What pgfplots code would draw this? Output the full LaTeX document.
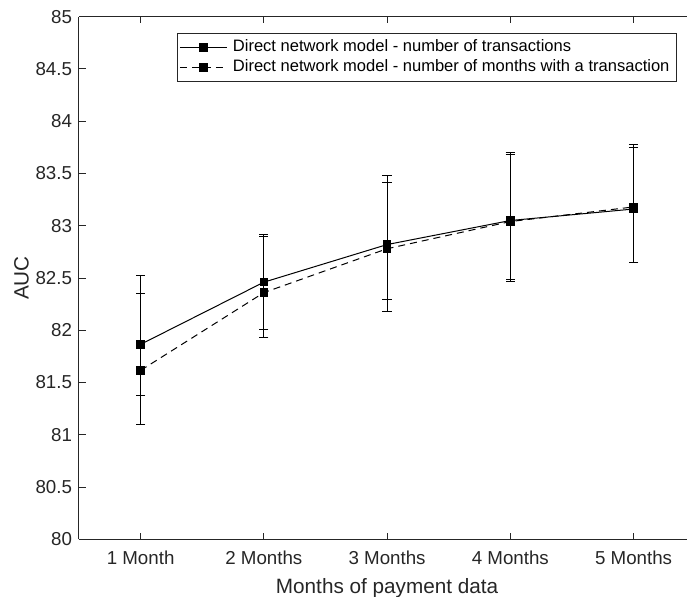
\documentclass[border=0pt]{standalone}
\usepackage{fontspec}
\setmainfont{Liberation Sans}
\usepackage{pgfplots}
\pgfplotsset{compat=1.18}
\usetikzlibrary{calc}
\definecolor{axgray}{RGB}{38,38,38}
\begin{document}
\begin{tikzpicture}
\begin{axis}[
  scale only axis,
  width=308.1bp, height=261.3bp,
  xmin=0.5, xmax=5.5, ymin=80, ymax=85,
  axis x line*=box, axis y line*=left,
  xtick={1,2,3,4,5},
  xticklabels={1 Month,2 Months,3 Months,4 Months,5 Months},
  ytick={80,80.5,81,81.5,82,82.5,83,83.5,84,84.5,85},
  /pgf/number format/assume math mode=true,
  /pgf/number format/fixed,
  /pgf/number format/precision=1,
  tick align=inside,
  major tick length=3.3bp,
  axis line style={axgray, line width=0.5bp},
  every tick/.style={axgray, line width=0.5bp},
  tick label style={font=\fontsize{9.4}{11}\selectfont, text=axgray},
  xticklabel style={yshift=-2.5bp},
  label style={font=\fontsize{10.4}{12}\selectfont, text=axgray},
  xlabel={Months of payment data},
  ylabel={AUC},
  ylabel style={yshift=-3.5bp},
  legend cell align=left,
  legend style={at={(rel axis cs:0.1587,0.9694)}, anchor=north west,
    draw=axgray, line width=0.5bp, font=\fontsize{8.3}{9.5}\selectfont,
    inner xsep=1bp, inner ysep=1.3bp, row sep=-1.5bp,
    nodes={inner xsep=2.5bp}},
  legend image code/.code={
    \draw[#1, mark repeat=2, mark phase=2] plot coordinates {(0bp,0bp) (11.9bp,0bp) (23.8bp,0bp)};
  },
]
\addplot+[black, solid, line width=0.5bp, mark=square*, mark size=1.9bp,
  mark options={solid, fill=black},
  error bars/.cd, y dir=both, y explicit,
  error bar style={line width=0.5bp, solid, black},
  error mark options={mark size=2.3bp, line width=0.5bp, solid, black, rotate=90}]
coordinates {
  (1,81.865) += (0,0.485) -= (0,0.485)
  (2,82.46)  += (0,0.46)  -= (0,0.45)
  (3,82.82)  += (0,0.595) -= (0,0.53)
  (4,83.05)  += (0,0.63)  -= (0,0.56)
  (5,83.16)  += (0,0.59)  -= (0,0.51)
};
\addlegendentry{Direct network model - number of transactions}
\addplot+[black, line width=0.5bp, dash pattern=on 3.5bp off 2.5bp, mark=square*, mark size=1.9bp,
  mark options={solid, fill=black},
  error bars/.cd, y dir=both, y explicit,
  error bar style={line width=0.5bp, solid, black},
  error mark options={mark size=2.3bp, line width=0.5bp, solid, black, rotate=90}]
coordinates {
  (1,81.616) += (0,0.904) -= (0,0.516)
  (2,82.36)  += (0,0.54)  -= (0,0.43)
  (3,82.78)  += (0,0.705) -= (0,0.60)
  (4,83.04)  += (0,0.66)  -= (0,0.57)
  (5,83.18)  += (0,0.595) -= (0,0.53)
};
\addlegendentry{Direct network model - number of months with a transaction}
\end{axis}
\pgfresetboundingbox
\path[use as bounding box] ($(current axis.south west)+(-39.5bp,-28.85bp)$) rectangle ($(current axis.north west)+(304bp,8.35bp)$);
\end{tikzpicture}
\end{document}
